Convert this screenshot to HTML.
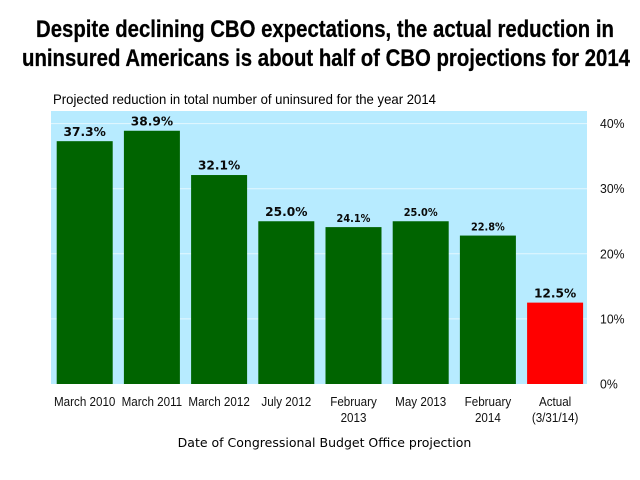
<!DOCTYPE html>
<html lang="en">
<head>
<meta charset="utf-8">
<title>CBO projections chart</title>
<style>
html,body{margin:0;padding:0;background:#fff;width:640px;height:480px;overflow:hidden}
svg{display:block}
text{font-family:"Liberation Sans",sans-serif;fill:#000}
.title{font-size:24px;font-weight:bold;stroke:#000;stroke-width:0.25px}
.tick{font-size:12.5px;fill:#111}
.val{font-family:"DejaVu Sans",sans-serif;font-weight:bold;text-anchor:middle;fill:#0a0a0a}
.cat{font-size:12.5px;text-anchor:middle;fill:#111}
</style>
</head>
<body>
<svg id="chart" xmlns="http://www.w3.org/2000/svg" width="640" height="480" viewBox="0 0 640 480">
  <text class="title" x="36" y="37" textLength="578" lengthAdjust="spacingAndGlyphs">Despite declining CBO expectations, the actual reduction in</text>
  <text class="title" x="22" y="66" textLength="608" lengthAdjust="spacingAndGlyphs">uninsured Americans is about half of CBO projections for 2014</text>
  <text x="53" y="104" font-size="14" textLength="383" lengthAdjust="spacingAndGlyphs">Projected reduction in total number of uninsured for the year 2014</text>
  <rect x="51" y="111" width="536" height="273" fill="#b7ebff"/>
  <g id="grid"></g>
  <g id="bars"></g>
  <g id="labels"></g>
  <g id="yticks"></g>
  <g id="cats"></g>
  <text x="324.5" y="447" font-size="12.5" text-anchor="middle" style="font-family:'DejaVu Sans',sans-serif">Date of Congressional Budget Office projection</text>
</svg>
<script>
var categories = [["March 2010"],["March 2011"],["March 2012"],["July 2012"],["February","2013"],["May 2013"],["February","2014"],["Actual","(3/31/14)"]];
var values = [37.3,38.9,32.1,25.0,24.1,25.0,22.8,12.5];
var printedValues = ["37.3%","38.9%","32.1%","25.0%","24.1%","25.0%","22.8%","12.5%"];
var tickValues = [0,10,20,30,40];
var tickLabels = ["0%","10%","20%","30%","40%"];
var colors = ["#006400","#006400","#006400","#006400","#006400","#006400","#006400","#ff0000"];
var labelSizes = [12.2,12.2,12.2,12.2,10.5,10.5,10.5,12.2];

var SVGNS = "http://www.w3.org/2000/svg";
var plotLeft = 51, plotRight = 587, plotBottom = 384, pxPerUnit = 6.51, barWidth = 56;
var bandWidth = 67.2, firstCenter = 84.7;
function y(v){ return plotBottom - v * pxPerUnit; }
function bandCenter(i){ return firstCenter + bandWidth * i; }
function make(tag, parent, attrs){
  var el = document.createElementNS(SVGNS, tag);
  for (var k in attrs) el.setAttribute(k, attrs[k]);
  document.getElementById(parent).appendChild(el);
  return el;
}
function squeeze(el, factor){
  el.setAttribute("textLength", el.getComputedTextLength() * factor);
  el.setAttribute("lengthAdjust", "spacingAndGlyphs");
}
tickValues.forEach(function(t, i){
  if (t > 0) {
    var g = make("line", "grid", {x1: plotLeft, x2: plotRight, y1: y(t), y2: y(t), stroke: "#e4f7ff", "stroke-width": 1});
    
    
  }
  var l = make("text", "yticks", {x: 600, y: y(t) + 4.5, "class": "tick"});
  l.textContent = tickLabels[i];
  
  
  squeeze(l, 0.98);
});
values.forEach(function(v, i){
  var cx = bandCenter(i);
  var b = make("rect", "bars", {x: cx - barWidth / 2, y: y(v), width: barWidth, height: plotBottom - y(v), fill: colors[i]});
  
  
  var t = make("text", "labels", {x: cx, y: y(v) - 5.3, "class": "val", "font-size": labelSizes[i]});
  t.textContent = printedValues[i];
  
  
  if (labelSizes[i] < 12) squeeze(t, 0.93);
  categories[i].forEach(function(line, j){
    var c = make("text", "cats", {x: cx, y: 406 + j * 16, "class": "cat"});
    c.textContent = line;
    
    
    squeeze(c, 0.93);
  });
});
</script>
</body>
</html>
